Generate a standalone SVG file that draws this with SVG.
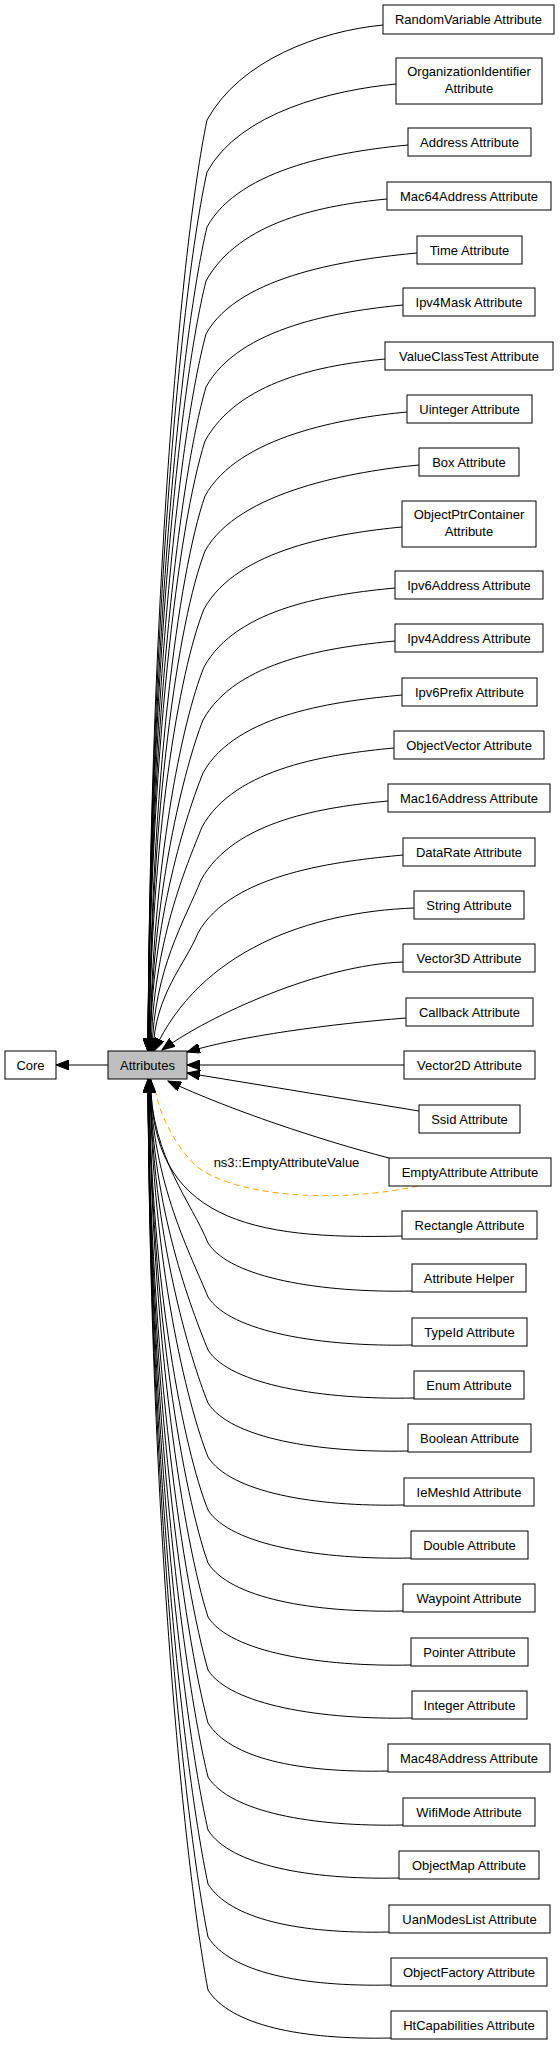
<svg xmlns="http://www.w3.org/2000/svg" width="560" height="2046" viewBox="0 0 560 2046">
<style>
.n rect{fill:#fff;stroke:#000;stroke-width:1}
.n text,.lbl{font-family:"Liberation Sans",Arial,Helvetica,sans-serif;font-size:13px;text-anchor:middle;fill:#000}
#Attributes rect{fill:#bfbfbf}
.e path{fill:none;stroke:#000;stroke-width:1;marker-end:url(#arr)}
.e path.dash{stroke:#FFA500;stroke-dasharray:6,4;marker-end:none}
</style>
<defs>
<marker id="arr" markerUnits="userSpaceOnUse" markerWidth="14" markerHeight="10" refX="13" refY="5" orient="auto">
<path d="M0,0 L13,5 L0,10 z" fill="#000" stroke="#000" stroke-width="1"/>
</marker>
</defs>
<rect width="560" height="2046" fill="#fff"/>
<g class="e" id="edges">
<path d="M108,1065 L56,1065"/>
<path d="M383,25 C320,31 240,60 207,120 C180,250 150,604 148,1051"/>
<path d="M396,84 C333,90 240,112 207,172 C180,295 150,629 148,1051"/>
<path d="M408,145 C345,151 240,167 207,227 C180,342 150,655 148,1051"/>
<path d="M387,199 C324,205 239,221 206,281 C179,389 150,681 148,1051"/>
<path d="M417,253 C354,259 239,274 206,334 C179,434 150,707 148,1051"/>
<path d="M403,305 C340,311 239,327 206,387 C179,480 150,732 148,1051"/>
<path d="M385,359 C322,365 238,381 205,441 C178,526 150,758 148,1051"/>
<path d="M407,412 C344,418 238,436 205,496 C178,574 151,785 149,1051"/>
<path d="M419,465 C356,471 238,491 205,551 C178,621 151,811 149,1051"/>
<path d="M402,527 C339,533 237,549 204,609 C179,671 151,839 149,1051"/>
<path d="M395,588 C332,594 237,607 204,667 C182,721 152,867 150,1051"/>
<path d="M395,641 C332,647 236,660 203,720 C185,766 152,892 150,1051"/>
<path d="M402,695 C339,701 236,713 203,773 C187,813 152,918 150,1051"/>
<path d="M394,748 C331,754 235,767 202,827 C186,867 153,943 151,1051"/>
<path d="M388,801 C325,807 234,820 201,880 C185,920 154,969 152,1051"/>
<path d="M403,855 C340,861 231,873 198,933 C185,965 155,994 153,1051"/>
<path d="M414,908 C310,912 200,950 154,1051"/>
<path d="M403,962 C320,965 210,1015 162,1050"/>
<path d="M406,1018 C330,1024 240,1036 187,1052"/>
<path d="M404,1065 L187,1065"/>
<path d="M419,1111 L187,1073"/>
<path d="M389,1158 C320,1140 230,1110 168,1081"/>
<path class="dash" d="M418,1186 C330,1205 230,1195 195,1165 C175,1145 160,1115 156,1093"/>
<path d="M402,1236 C250,1240 150,1220 151,1080"/>
<path d="M412,1291 C322,1293 230,1278 208,1243 C192,1203 152,1158 150,1080"/>
<path d="M412,1345 C322,1347 230,1332 208,1297 C192,1257 152,1184 150,1080"/>
<path d="M414,1398 C324,1400 230,1385 208,1350 C192,1310 152,1210 150,1080"/>
<path d="M408,1451 C318,1453 230,1438 208,1403 C190,1358 152,1235 150,1080"/>
<path d="M404,1505 C314,1507 230,1492 208,1457 C187,1404 152,1261 150,1080"/>
<path d="M411,1558 C321,1560 230,1545 208,1510 C184,1450 151,1286 149,1080"/>
<path d="M403,1611 C313,1613 230,1598 208,1563 C184,1495 151,1312 149,1080"/>
<path d="M411,1665 C321,1667 230,1652 208,1617 C184,1542 151,1338 149,1080"/>
<path d="M412,1718 C322,1720 230,1705 208,1670 C184,1587 150,1363 148,1080"/>
<path d="M388,1771 C298,1773 230,1758 208,1723 C184,1633 150,1389 148,1080"/>
<path d="M403,1825 C313,1827 230,1812 208,1777 C184,1679 150,1415 148,1080"/>
<path d="M399,1878 C309,1880 230,1865 208,1830 C184,1725 150,1440 148,1080"/>
<path d="M389,1932 C299,1934 230,1919 208,1884 C184,1771 150,1466 148,1080"/>
<path d="M391,1985 C301,1987 230,1972 208,1937 C184,1817 150,1491 148,1080"/>
<path d="M391,2038 C301,2040 230,2025 208,1990 C184,1863 150,1517 148,1080"/>
<text class="lbl" x="286.5" y="1166.5">ns3::EmptyAttributeValue</text>
</g>
<g class="n" id="Core"><rect x="5" y="1051" width="51" height="28"/><text x="30.5" y="1069.5">Core</text></g>
<g class="n" id="Attributes"><rect x="108" y="1051" width="79" height="28"/><text x="147.5" y="1069.5">Attributes</text></g>
<g class="n" id="RandomVariable"><rect x="383" y="5" width="171" height="29"/><text x="468.5" y="24">RandomVariable Attribute</text></g>
<g class="n" id="OrganizationIdentifier"><rect x="396" y="58" width="146" height="46"/><text x="469" y="76">OrganizationIdentifier</text><text x="469" y="92.5">Attribute</text></g>
<g class="n" id="Address"><rect x="408" y="128" width="123" height="28"/><text x="469.5" y="146.5">Address Attribute</text></g>
<g class="n" id="Mac64Address"><rect x="387" y="182" width="164" height="28"/><text x="469" y="200.5">Mac64Address Attribute</text></g>
<g class="n" id="Time"><rect x="417" y="236" width="105" height="28"/><text x="469.5" y="254.5">Time Attribute</text></g>
<g class="n" id="Ipv4Mask"><rect x="403" y="288" width="132" height="28"/><text x="469" y="306.5">Ipv4Mask Attribute</text></g>
<g class="n" id="ValueClassTest"><rect x="385" y="342" width="168" height="28"/><text x="469" y="360.5">ValueClassTest Attribute</text></g>
<g class="n" id="Uinteger"><rect x="407" y="395" width="125" height="28"/><text x="469.5" y="413.5">Uinteger Attribute</text></g>
<g class="n" id="Box"><rect x="419" y="448" width="100" height="28"/><text x="469" y="466.5">Box Attribute</text></g>
<g class="n" id="ObjectPtrContainer"><rect x="402" y="501" width="134" height="46"/><text x="469" y="519">ObjectPtrContainer</text><text x="469" y="535.5">Attribute</text></g>
<g class="n" id="Ipv6Address"><rect x="395" y="571" width="148" height="28"/><text x="469" y="589.5">Ipv6Address Attribute</text></g>
<g class="n" id="Ipv4Address"><rect x="395" y="624" width="148" height="28"/><text x="469" y="642.5">Ipv4Address Attribute</text></g>
<g class="n" id="Ipv6Prefix"><rect x="402" y="678" width="135" height="28"/><text x="469.5" y="696.5">Ipv6Prefix Attribute</text></g>
<g class="n" id="ObjectVector"><rect x="394" y="731" width="150" height="28"/><text x="469" y="749.5">ObjectVector Attribute</text></g>
<g class="n" id="Mac16Address"><rect x="388" y="784" width="162" height="28"/><text x="469" y="802.5">Mac16Address Attribute</text></g>
<g class="n" id="DataRate"><rect x="403" y="838" width="132" height="28"/><text x="469" y="856.5">DataRate Attribute</text></g>
<g class="n" id="String"><rect x="414" y="891" width="110" height="28"/><text x="469" y="909.5">String Attribute</text></g>
<g class="n" id="Vector3D"><rect x="403" y="944" width="132" height="28"/><text x="469" y="962.5">Vector3D Attribute</text></g>
<g class="n" id="Callback"><rect x="406" y="998" width="127" height="28"/><text x="469.5" y="1016.5">Callback Attribute</text></g>
<g class="n" id="Vector2D"><rect x="404" y="1051" width="131" height="28"/><text x="469.5" y="1069.5">Vector2D Attribute</text></g>
<g class="n" id="Ssid"><rect x="419" y="1105" width="101" height="28"/><text x="469.5" y="1123.5">Ssid Attribute</text></g>
<g class="n" id="EmptyAttribute"><rect x="389" y="1158" width="162" height="28"/><text x="470" y="1176.5">EmptyAttribute Attribute</text></g>
<g class="n" id="Rectangle"><rect x="402" y="1211" width="135" height="28"/><text x="469.5" y="1229.5">Rectangle Attribute</text></g>
<g class="n" id="AttributeHelper"><rect x="412" y="1264" width="114" height="28"/><text x="469" y="1282.5">Attribute Helper</text></g>
<g class="n" id="TypeId"><rect x="412" y="1318" width="115" height="28"/><text x="469.5" y="1336.5">TypeId Attribute</text></g>
<g class="n" id="Enum"><rect x="414" y="1371" width="110" height="28"/><text x="469" y="1389.5">Enum Attribute</text></g>
<g class="n" id="Boolean"><rect x="408" y="1424" width="123" height="28"/><text x="469.5" y="1442.5">Boolean Attribute</text></g>
<g class="n" id="IeMeshId"><rect x="404" y="1478" width="130" height="28"/><text x="469" y="1496.5">IeMeshId Attribute</text></g>
<g class="n" id="Double"><rect x="411" y="1531" width="117" height="28"/><text x="469.5" y="1549.5">Double Attribute</text></g>
<g class="n" id="Waypoint"><rect x="403" y="1584" width="132" height="28"/><text x="469" y="1602.5">Waypoint Attribute</text></g>
<g class="n" id="Pointer"><rect x="411" y="1638" width="117" height="28"/><text x="469.5" y="1656.5">Pointer Attribute</text></g>
<g class="n" id="Integer"><rect x="412" y="1691" width="115" height="28"/><text x="469.5" y="1709.5">Integer Attribute</text></g>
<g class="n" id="Mac48Address"><rect x="388" y="1744" width="162" height="28"/><text x="469" y="1762.5">Mac48Address Attribute</text></g>
<g class="n" id="WifiMode"><rect x="403" y="1798" width="132" height="28"/><text x="469" y="1816.5">WifiMode Attribute</text></g>
<g class="n" id="ObjectMap"><rect x="399" y="1851" width="140" height="28"/><text x="469" y="1869.5">ObjectMap Attribute</text></g>
<g class="n" id="UanModesList"><rect x="389" y="1905" width="161" height="28"/><text x="469.5" y="1923.5">UanModesList Attribute</text></g>
<g class="n" id="ObjectFactory"><rect x="391" y="1958" width="156" height="28"/><text x="469" y="1976.5">ObjectFactory Attribute</text></g>
<g class="n" id="HtCapabilities"><rect x="391" y="2011" width="156" height="28"/><text x="469" y="2029.5">HtCapabilities Attribute</text></g>
</svg>
